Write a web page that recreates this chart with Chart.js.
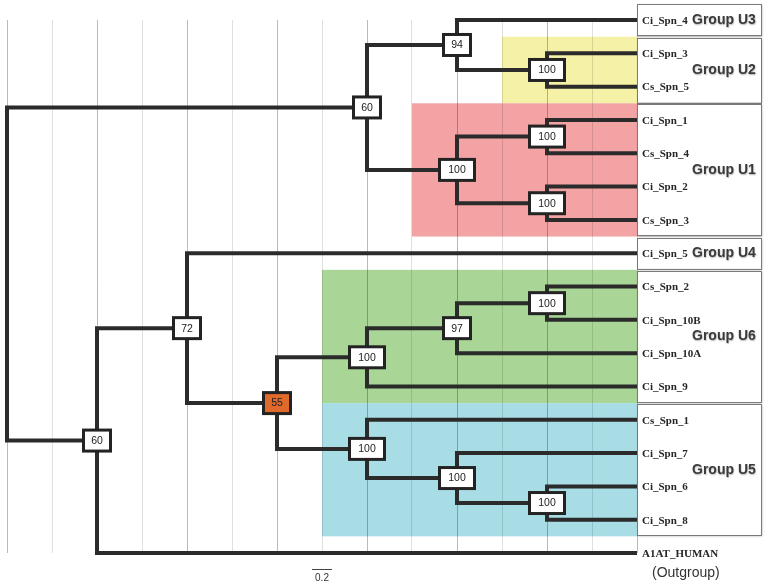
<!DOCTYPE html>
<html>
<head>
<meta charset="utf-8">
<script src="https://cdn.jsdelivr.net/npm/chart.js@4.4.1/dist/chart.umd.min.js"></script>
<style>
  html, body { margin: 0; padding: 0; background: #ffffff; }
  #wrap { width: 766px; height: 586px; position: relative; }
</style>
</head>
<body>
<div id="wrap"><canvas id="c" width="766" height="586"></canvas></div>
<script>
const taxa = ['Ci_Spn_4','Ci_Spn_3','Cs_Spn_5','Ci_Spn_1','Cs_Spn_4','Ci_Spn_2','Cs_Spn_3',
              'Ci_Spn_5','Cs_Spn_2','Ci_Spn_10B','Ci_Spn_10A','Ci_Spn_9','Cs_Spn_1',
              'Ci_Spn_7','Ci_Spn_6','Ci_Spn_8','A1AT_HUMAN'];
const taxonParents = ['n94','nU2','nU2','nA','nA','nB','nB',
                      'n72','nC','nC','n97','nU6','nU5',
                      'nD','nE','nE','n60b'];
const taxonDepth = [6.3,6.3,6.3,6.3,6.3,6.3,6.3,6.3,6.3,6.3,6.3,6.3,6.3,6.3,6.3,6.3,6.3];

const nodeIds      = ['root','n60a','n94','nU2','nU1','nA','nB','n60b','n72','n55','nU6','n97','nC','nU5','nD','nE'];
const nodeParents  = [null,'root','n60a','n94','n60a','nU1','nU1','root','n60b','n72','n55','nU6','n97','n55','nU5','nD'];
const nodeDepth    = [0,3.6,4.5,5.4,4.5,5.4,5.4,0.9,1.8,2.7,3.6,4.5,5.4,3.6,4.5,5.4];
const nodeSupport  = [null,60,94,100,100,100,100,60,72,55,100,97,100,100,100,100];
const highlightNode = 'n55';

const groupNames   = ['Group U3','Group U2','Group U1','Group U4','Group U6','Group U5'];
const groupFirstRow = [0,1,3,7,8,12];
const groupLastRow  = [0,2,6,7,11,15];
const groupShadeFrom = [null,4.95,4.05,null,3.15,3.15];
const groupShadeColor = [null,'#f5f1a6','#f3a3a4',null,'#a9d696','#a9dde6'];

const gridTicks = [0,0.45,0.9,1.35,1.8,2.25,2.7,3.15,3.6,4.05,4.5,4.95,5.4,5.85,6.3];
const scaleBarStart = 3.05;
const scaleBarLength = 0.2;
const scaleBarLabel = '0.2';
const outgroupLabel = '(Outgroup)';

// ---- Build tree geometry (layout only) ----
const N = {};
nodeIds.forEach((id,i)=>{ N[id] = {id, parent: nodeParents[i], x: nodeDepth[i], support: nodeSupport[i], children: []}; });
const leaves = taxa.map((t,i)=>({id:t, parent: taxonParents[i], x: taxonDepth[i], y: i, leaf:true}));
nodeIds.forEach(id=>{ const p = N[id].parent; if (p) N[p].children.push(N[id]); });
leaves.forEach(l=>{ N[l.parent].children.push(l); });
function layY(n){
  if (n.leaf) return n.y;
  const ys = n.children.map(layY);
  n.y = (Math.min(...ys) + Math.max(...ys)) / 2;
  return n.y;
}
layY(N.root);

const edges = [];
nodeIds.forEach(id=>{ const n = N[id]; if (n.parent) edges.push([N[n.parent], n]); });
leaves.forEach(l=>edges.push([N[l.parent], l]));

const datasets = edges.map(([p,c])=>({
  data: [{x:p.x,y:p.y},{x:p.x,y:c.y},{x:c.x,y:c.y}],
  showLine: true,
  borderColor: '#2b2b2b',
  borderWidth: 4,
  pointRadius: 0,
  borderJoinStyle: 'miter',
  borderCapStyle: 'butt',
  clip: false,
  fill: false,
  tension: 0
}));

const treePlugin = {
  id: 'tree',
  beforeDraw(chart){
    const ctx = chart.ctx, xs = chart.scales.x, ys = chart.scales.y;
    ctx.save();
    groupNames.forEach((g,i)=>{
      if (groupShadeFrom[i] == null) return;
      const x0 = xs.getPixelForValue(groupShadeFrom[i]);
      const x1 = xs.getPixelForValue(6.3);
      const y0 = ys.getPixelForValue(groupFirstRow[i]-0.5);
      const y1 = ys.getPixelForValue(groupLastRow[i]+0.5);
      ctx.fillStyle = groupShadeColor[i];
      ctx.fillRect(x0, y0, x1-x0, y1-y0);
    });
    ctx.restore();
  },
  afterDatasetsDraw(chart){
    const ctx = chart.ctx, xs = chart.scales.x, ys = chart.scales.y;
    ctx.save();
    nodeIds.forEach((id,i)=>{
      const s = nodeSupport[i];
      if (s == null) return;
      const n = N[id];
      const cx = xs.getPixelForValue(n.x), cy = ys.getPixelForValue(n.y);
      const txt = String(s);
      const w = txt.length >= 3 ? 35 : 27, h = 21;
      ctx.fillStyle = id === highlightNode ? '#e0692c' : '#ffffff';
      ctx.strokeStyle = '#232323';
      ctx.lineWidth = 3;
      ctx.fillRect(cx-w/2, cy-h/2, w, h);
      ctx.strokeRect(cx-w/2, cy-h/2, w, h);
      ctx.fillStyle = '#222';
      ctx.font = '10.5px "Liberation Sans", Arial, sans-serif';
      ctx.textAlign = 'center';
      ctx.textBaseline = 'middle';
      ctx.fillText(txt, cx, cy+0.5);
    });
    ctx.restore();
  },
  afterDraw(chart){
    const ctx = chart.ctx, xs = chart.scales.x, ys = chart.scales.y;
    const bx0 = xs.getPixelForValue(6.3);
    const bx1 = 761;
    ctx.save();
    groupNames.forEach((g,i)=>{
      const y0 = ys.getPixelForValue(groupFirstRow[i]-0.47);
      const y1 = ys.getPixelForValue(groupLastRow[i]+0.47);
      ctx.save();
      ctx.shadowColor = 'rgba(0,0,0,0.35)';
      ctx.shadowBlur = 2;
      ctx.shadowOffsetX = 1;
      ctx.shadowOffsetY = 1;
      ctx.fillStyle = '#ffffff';
      ctx.fillRect(bx0, y0, bx1-bx0, y1-y0);
      ctx.restore();
      ctx.strokeStyle = '#7a7a7a';
      ctx.lineWidth = 1;
      ctx.strokeRect(Math.round(bx0)+0.5, Math.round(y0)+0.5, bx1-Math.round(bx0), Math.round(y1-y0));
    });
    ctx.fillStyle = '#262626';
    ctx.font = 'bold 11px "Liberation Serif", "Times New Roman", serif';
    ctx.textAlign = 'left';
    ctx.textBaseline = 'middle';
    taxa.forEach((t,i)=>{
      ctx.fillText(t, bx0+5, ys.getPixelForValue(i)+1);
    });
    ctx.save();
    ctx.font = 'bold 14px "Liberation Sans", Arial, sans-serif';
    ctx.fillStyle = '#3a3a3a';
    ctx.shadowColor = 'rgba(0,0,0,0.3)';
    ctx.shadowBlur = 1.5;
    ctx.shadowOffsetX = 0.5;
    ctx.shadowOffsetY = 1;
    groupNames.forEach((g,i)=>{
      const yc = ys.getPixelForValue((groupFirstRow[i]+groupLastRow[i])/2);
      ctx.fillText(g, 692, yc);
    });
    ctx.restore();
    ctx.font = '14px "Liberation Sans", Arial, sans-serif';
    ctx.fillStyle = '#333';
    ctx.fillText(outgroupLabel, 652, ys.getPixelForValue(taxa.length-1)+20);
    const sx0 = xs.getPixelForValue(scaleBarStart), sx1 = xs.getPixelForValue(scaleBarStart+scaleBarLength);
    const sy = ys.getPixelForValue(taxa.length-1)+16;
    ctx.strokeStyle = '#444';
    ctx.lineWidth = 1;
    ctx.beginPath();
    ctx.moveTo(sx0, Math.round(sy)+0.5);
    ctx.lineTo(sx1, Math.round(sy)+0.5);
    ctx.stroke();
    ctx.font = '10px "Liberation Sans", Arial, sans-serif';
    ctx.fillStyle = '#333';
    ctx.textAlign = 'center';
    ctx.fillText(scaleBarLabel, (sx0+sx1)/2, sy+9);
    ctx.restore();
  }
};

new Chart(document.getElementById('c'), {
  type: 'scatter',
  data: { datasets },
  options: {
    responsive: false,
    animation: false,
    events: [],
    layout: { padding: { left: 7, right: 129, top: 20, bottom: 33 } },
    plugins: { legend: { display: false }, tooltip: { enabled: false } },
    scales: {
      x: {
        type: 'linear', min: 0, max: 6.3,
        afterBuildTicks: (s)=>{ s.ticks = gridTicks.map(v=>({value:v})); },
        ticks: { display: false },
        border: { display: false },
        grid: {
          drawTicks: false,
          lineWidth: 1,
          color: (c)=> (c.index % 2 === 0 ? 'rgba(0,0,0,0.27)' : 'rgba(0,0,0,0.12)')
        }
      },
      y: {
        type: 'linear', min: 0, max: 16, reverse: true,
        display: false
      }
    }
  },
  plugins: [treePlugin]
});
</script>
</body>
</html>
